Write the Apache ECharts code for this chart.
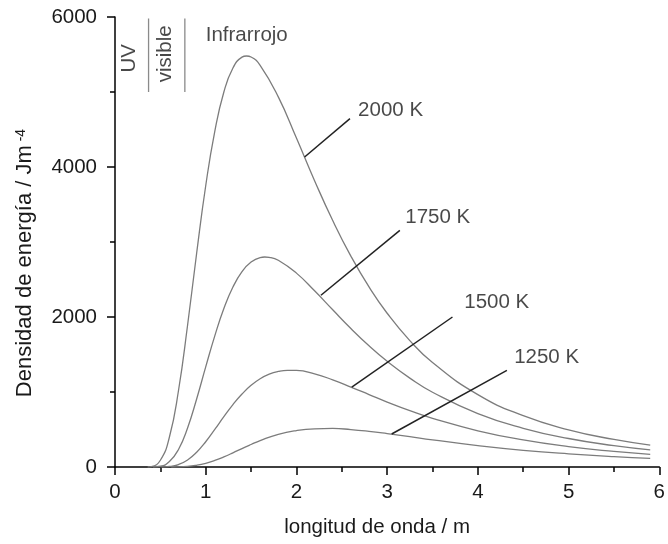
<!DOCTYPE html>
<html>
<head>
<meta charset="utf-8">
<script src="https://cdn.jsdelivr.net/npm/echarts@6/dist/echarts.min.js"></script>
<style>
  html, body { margin: 0; padding: 0; background: #fff; }
  #chart { width: 668px; height: 544px; }
</style>
</head>
<body>
<div id="chart"></div>
<script>
// longitud de onda (x) y densidad de energía (y)
const wl2000 = [0.36, 0.40, 0.50, 0.60, 0.70, 0.80, 0.90, 1.00, 1.10, 1.20, 1.30, 1.40, 1.45, 1.50, 1.60, 1.80, 2.00, 2.20, 2.40, 2.60, 2.80, 3.00, 3.25, 3.50, 4.00, 4.50, 5.00, 5.50, 5.90]
const e2000 = [0, 5, 90, 400, 1020, 1890, 2850, 3750, 4475, 5000, 5320, 5465, 5480, 5467, 5356, 4935, 4387, 3818, 3286, 2812, 2401, 2050, 1685, 1393, 965, 684, 496, 367, 292]

const wl1750 = [0.42, 0.50, 0.60, 0.70, 0.80, 0.90, 1.00, 1.10, 1.20, 1.30, 1.40, 1.50, 1.60, 1.65, 1.70, 1.80, 2.00, 2.20, 2.40, 2.60, 2.80, 3.00, 3.25, 3.50, 4.00, 4.50, 5.00, 5.50, 5.90]
const e1750 = [0, 10, 72, 234, 521, 907, 1335, 1748, 2112, 2399, 2605, 2733, 2793, 2800, 2795, 2756, 2585, 2349, 2096, 1847, 1616, 1409, 1185, 997, 712, 516, 380, 285, 229]

const wl1500 = [0.50, 0.60, 0.70, 0.80, 0.90, 1.00, 1.10, 1.20, 1.30, 1.40, 1.50, 1.60, 1.70, 1.80, 1.90, 2.00, 2.20, 2.40, 2.60, 2.80, 3.00, 3.25, 3.50, 4.00, 4.50, 5.00, 5.50, 5.90]
const e1500 = [0, 7, 33, 94, 197, 337, 501, 671, 832, 973, 1089, 1177, 1238, 1274, 1289, 1287, 1241, 1162, 1066, 966, 866, 751, 649, 483, 361, 272, 208, 169]

const wl1250 = [0.62, 0.80, 0.90, 1.00, 1.10, 1.20, 1.30, 1.40, 1.50, 1.60, 1.80, 2.00, 2.20, 2.40, 2.60, 2.80, 3.00, 3.25, 3.50, 4.00, 4.50, 5.00, 5.50, 5.90]
const e1250 = [0, 8, 23, 49, 87, 135, 189, 246, 300, 352, 435, 485, 509, 514, 499, 475, 445, 404, 362, 286, 223, 175, 137, 114]

const temps = ['2000 K', '1750 K', '1500 K', '1250 K']
// líneas indicadoras: [x0, y0, x1, y1]
const leaders = [
  [2.09, 4133, 2.59, 4645],
  [2.27, 2290, 3.14, 3156],
  [2.61, 1066, 3.72, 2000],
  [3.05, 440, 4.32, 1289]
]
const labelAt = [[2.68, 4756], [3.20, 3333], [3.85, 2200], [4.40, 1467]]

// bandas UV / visible
const bandLines = [0.37, 0.77]
const bandY = [5000, 5980]

const xTicks = [0, 6, 1]
const yTicks = [0, 6000, 2000]

const pairs = (xs, ys) => xs.map((x, i) => [x, ys[i]])
const curves = [pairs(wl2000, e2000), pairs(wl1750, e1750), pairs(wl1500, e1500), pairs(wl1250, e1250)]

const txt = '#1a1a1a'
const font = 'Liberation Sans'
const fs = 20.5

const series = []
curves.forEach((d, i) => {
  series.push({
    name: temps[i],
    type: 'line',
    data: d,
    smooth: 0.5,
    symbol: 'none',
    lineStyle: { color: '#7c7c7c', width: 1.3 },
    silent: true
  })
})
leaders.forEach((l) => {
  series.push({
    type: 'line',
    data: [[l[0], l[1]], [l[2], l[3]]],
    symbol: 'none',
    lineStyle: { color: '#222', width: 1.5 },
    silent: true
  })
})
bandLines.forEach((x) => {
  series.push({
    type: 'line',
    data: [[x, bandY[0]], [x, bandY[1]]],
    symbol: 'none',
    lineStyle: { color: '#8a8a8a', width: 1.3 },
    silent: true
  })
})
series.push({
  type: 'scatter',
  symbolSize: 0,
  data: labelAt.map((p, i) => ({ value: p, name: temps[i] })),
  label: {
    show: true,
    position: 'right',
    distance: 0,
    formatter: '{b}',
    color: txt,
    fontSize: fs,
    fontFamily: font
  },
  silent: true
})
series.push({
  type: 'scatter',
  symbolSize: 0,
  data: [
    { value: [0.16, 5449], name: 'UV' },
    { value: [0.55, 5509], name: 'visible' }
  ],
  label: {
    show: true,
    position: 'inside',
    rotate: 90,
    formatter: '{b}',
    color: txt,
    fontSize: fs,
    fontFamily: font
  },
  silent: true
})
series.push({
  type: 'scatter',
  symbolSize: 0,
  data: [{ value: [1.00, 5756], name: 'Infrarrojo' }],
  label: {
    show: true,
    position: 'right',
    distance: 0,
    formatter: '{b}',
    color: txt,
    fontSize: fs,
    fontFamily: font
  },
  silent: true
})

var myChart = echarts.init(document.getElementById('chart'))
myChart.setOption({
  animation: false,
  backgroundColor: '#fff',
  grid: { left: 115, right: 4, top: 17, bottom: 77, containLabel: false },
  xAxis: {
    type: 'value',
    min: xTicks[0],
    max: xTicks[1],
    interval: xTicks[2],
    name: 'longitud de onda / m',
    nameLocation: 'middle',
    nameGap: 50,
    nameTextStyle: { color: txt, fontSize: fs, fontFamily: font, padding: [0, 20, 0, 0] },
    axisLine: { show: true, onZero: false, lineStyle: { color: '#000', width: 1.5 } },
    axisTick: { show: true, length: 8, lineStyle: { color: '#000', width: 1.5 } },
    minorTick: { show: true, splitNumber: 2, length: 5, lineStyle: { color: '#000', width: 1.5 } },
    axisLabel: { color: txt, fontSize: fs, fontFamily: font, margin: 15 },
    splitLine: { show: false }
  },
  yAxis: {
    type: 'value',
    min: yTicks[0],
    max: yTicks[1],
    interval: yTicks[2],
    name: '{a|Densidad de energía / Jm}{b| -4}',
    nameLocation: 'middle',
    nameGap: 79,
    nameTextStyle: {
      color: txt,
      fontSize: 22,
      fontFamily: font,
      padding: [0, 42, 0, 0],
      rich: {
        a: { color: txt, fontSize: 22, fontFamily: font },
        b: { color: txt, fontSize: 14, fontFamily: font, verticalAlign: 'top', padding: [0, 0, 8, 0] }
      }
    },
    axisLine: { show: true, lineStyle: { color: '#000', width: 1.5 } },
    axisTick: { show: true, length: 8, lineStyle: { color: '#000', width: 1.5 } },
    minorTick: { show: true, splitNumber: 2, length: 5, lineStyle: { color: '#000', width: 1.5 } },
    axisLabel: { color: txt, fontSize: fs, fontFamily: font, margin: 18, formatter: (v) => String(v) },
    splitLine: { show: false }
  },
  series: series
})
</script>
</body>
</html>
